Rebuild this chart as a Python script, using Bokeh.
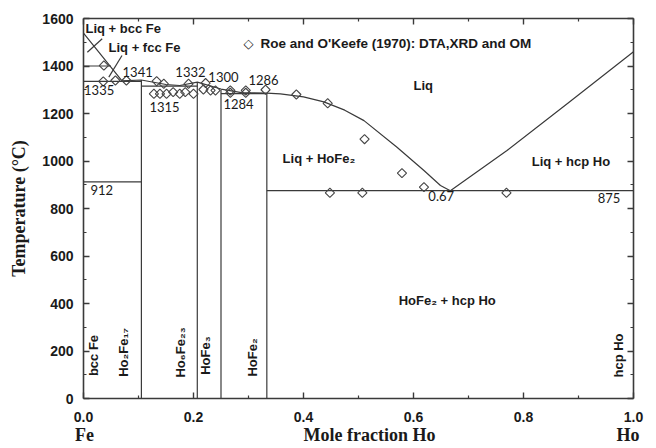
import numpy as np
from bokeh.plotting import figure
from bokeh.models import (Range1d, LinearAxis, Label, PrintfTickFormatter,
                          FixedTicker)
from bokeh.embed import file_html
from bokeh.resources import INLINE

# ---- experimental points: Roe and O'Keefe (1970), DTA / XRD / OM ----
exp_x = [0.037, 0.036, 0.058, 0.078, 0.133, 0.146, 0.128, 0.139, 0.151, 0.163,
         0.175, 0.185, 0.191, 0.200, 0.222, 0.218, 0.231, 0.240, 0.267, 0.267,
         0.295, 0.295, 0.331, 0.387, 0.444, 0.511, 0.579, 0.619, 0.448, 0.507,
         0.769]
exp_T = [1402, 1335, 1339, 1339, 1336, 1325, 1283, 1283, 1283, 1290,
         1283, 1290, 1325, 1283, 1328, 1301, 1297, 1297, 1297, 1287,
         1297, 1287, 1300, 1280, 1243, 1092, 949, 890, 866, 866,
         866]

# ---- calculated phase boundaries ----
# liquidus from pure Fe down to the HoFe2/Ho eutectic
liq_left_x = [0.0, 0.070, 0.105, 0.150, 0.175, 0.207, 0.250, 0.290, 0.333,
              0.358, 0.400, 0.437, 0.475, 0.510, 0.570, 0.619, 0.649, 0.667]
liq_left_T = [1538, 1337, 1341, 1322, 1318, 1332, 1303, 1287, 1286,
              1283, 1270, 1249, 1214, 1170, 1058, 960, 897, 875]
# liquidus from the eutectic up to pure Ho
liq_right_x = [0.667, 0.770, 0.880, 1.0]
liq_right_T = [875, 1044, 1242, 1460]

# short boundaries of the narrow Liq + bcc / Liq + fcc fields
fe_seg_x0 = [0.007, 0.046]
fe_seg_T0 = [1458, 1353]
fe_seg_x1 = [0.034, 0.070]
fe_seg_T1 = [1515, 1444]

# stoichiometric compounds (vertical lines) and their upper temperatures
comp_x = [2 / 19, 6 / 29, 0.25, 1 / 3]
comp_T = [1341, 1332, 1300, 1286]

# invariant / transformation horizontals
inv_T = [1400, 1335, 912, 1315, 1284, 875]
inv_x0 = [0.0, 0.0, 0.0, 2 / 19, 0.25, 1 / 3]
inv_x1 = [0.05, 2 / 19, 2 / 19, 6 / 29, 1 / 3, 1.0]

x_ticks = [0.0, 0.2, 0.4, 0.6, 0.8, 1.0]
x_minor = [0.1, 0.3, 0.5, 0.7, 0.9]
y_ticks = [0, 200, 400, 600, 800, 1000, 1200, 1400, 1600]
y_minor = [100, 300, 500, 700, 900, 1100, 1300, 1500]

LINE = "#3a3a3a"
TEXT = "#1a1a1a"
SANS = "Liberation Sans"
SERIF = "Liberation Serif"
NUM = "Lato"

p = figure(width=656, height=448, output_backend="svg", toolbar_location=None,
           x_range=Range1d(0, 1.0), y_range=Range1d(0, 1600),
           min_border_left=83, min_border_right=23, min_border_top=18,
           min_border_bottom=50, background_fill_color="white",
           border_fill_color="white")
p.grid.visible = False
p.outline_line_color = None


def style_axis(ax, labels=True):
    ax.axis_line_color = LINE
    ax.axis_line_width = 1.6
    ax.major_tick_line_color = LINE
    ax.minor_tick_line_color = LINE
    ax.major_tick_line_width = 1.4
    ax.minor_tick_line_width = 1.2
    ax.major_tick_in = 6
    ax.major_tick_out = 0
    ax.minor_tick_in = 3
    ax.minor_tick_out = 0
    if labels:
        ax.major_label_text_font = SANS
        ax.major_label_text_font_style = "bold"
        ax.major_label_text_font_size = "14px"
        ax.major_label_text_color = TEXT
    else:
        ax.major_label_text_font_size = "0px"
        ax.major_label_standoff = 0


p.xaxis.ticker = FixedTicker(ticks=x_ticks, minor_ticks=x_minor)
p.xaxis.formatter = PrintfTickFormatter(format="%.1f")
p.yaxis.ticker = FixedTicker(ticks=y_ticks, minor_ticks=y_minor)
for ax in p.xaxis:
    style_axis(ax)
    ax.major_label_standoff = 13
for ax in p.yaxis:
    style_axis(ax)
    ax.major_label_standoff = 10
    ax.axis_label = "Temperature (\u00b0C)"
    ax.axis_label_text_font = SERIF
    ax.axis_label_text_font_style = "bold"
    ax.axis_label_text_font_size = "18px"
    ax.axis_label_text_color = TEXT
    ax.axis_label_standoff = 10

top = LinearAxis(ticker=FixedTicker(ticks=x_ticks, minor_ticks=x_minor))
right = LinearAxis(ticker=FixedTicker(ticks=y_ticks, minor_ticks=y_minor))
style_axis(top, labels=False)
style_axis(right, labels=False)
p.add_layout(top, "above")
p.add_layout(right, "right")

# composition title row under the x axis: Fe ... Mole fraction Ho ... Ho
title_ticks = [0.002, 0.52, 0.99]
title_axis = LinearAxis(ticker=FixedTicker(ticks=title_ticks, minor_ticks=[]),
                        major_label_overrides={0.002: "Fe",
                                               0.52: "Mole fraction Ho",
                                               0.99: "Ho"})
title_axis.axis_line_color = None
title_axis.major_tick_line_color = None
title_axis.major_tick_in = 0
title_axis.major_tick_out = 0
title_axis.minor_tick_line_color = None
title_axis.major_label_standoff = 0
title_axis.major_label_text_font = SERIF
title_axis.major_label_text_font_style = "bold"
title_axis.major_label_text_font_size = "18px"
title_axis.major_label_text_color = TEXT
p.add_layout(title_axis, "below")

# phase boundaries
p.line(liq_left_x, liq_left_T, line_color=LINE, line_width=1.2)
p.line(liq_right_x, liq_right_T, line_color=LINE, line_width=1.2)
p.segment(x0=fe_seg_x0, y0=fe_seg_T0, x1=fe_seg_x1, y1=fe_seg_T1,
          line_color=LINE, line_width=1.2)
p.segment(x0=comp_x, y0=[0] * len(comp_x), x1=comp_x, y1=comp_T,
          line_color=LINE, line_width=1.2)
p.segment(x0=inv_x0, y0=inv_T, x1=inv_x1, y1=inv_T,
          line_color=LINE, line_width=1.2)

# experimental points (open diamonds)
p.scatter(exp_x, exp_T, marker="square", angle=np.pi / 4, size=6.5,
          fill_color=None, line_color="#444444", line_width=1.1)


def add_label(x, y, text, font=SANS, size="13px", style="bold", align="left",
              angle=0.0):
    p.add_layout(Label(x=x, y=y, text=text, text_font=font, text_font_size=size,
                       text_font_style=style, text_color=TEXT, text_align=align,
                       text_baseline="middle", angle=angle))


# key for the experimental points
add_label(0.300, 1493, "\u25c7", font="DejaVu Sans", size="13px",
          style="normal", align="center")
add_label(0.322, 1493, "Roe and O'Keefe (1970): DTA,XRD and OM", size="13.5px")

# phase-field labels
add_label(0.0036, 1558, "Liq + bcc Fe")
add_label(0.0455, 1478, "Liq + fcc Fe")
add_label(0.600, 1318, "Liq")
add_label(0.362, 1010, "Liq + HoFe\u2082")
add_label(0.815, 998, "Liq + hcp Ho")
add_label(0.573, 413, "HoFe\u2082 + hcp Ho")

# invariant temperatures / compositions
for x, y, t in [(0.001, 1297, "1335"), (0.071, 1373, "1341"),
                (0.167, 1373, "1332"), (0.227, 1352, "1300"),
                (0.300, 1343, "1286"), (0.120, 1229, "1315"),
                (0.2545, 1238, "1284"), (0.0127, 876, "912"),
                (0.627, 851, "0.67"), (0.935, 846, "875")]:
    add_label(x, y, t, font=NUM, size="13px", style="normal")

# single-phase labels, written vertically
for x, y, t in [(0.019, 181, "bcc Fe"), (0.073, 194, "Ho\u2082Fe\u2081\u2087"),
                (0.176, 194, "Ho\u2086Fe\u2082\u2083"), (0.222, 181, "HoFe\u2083"),
                (0.307, 173, "HoFe\u2082"), (0.973, 181, "hcp Ho")]:
    add_label(x, y, t, align="center", angle=np.pi / 2)

open("out.html", "w").write(file_html(p, INLINE))
